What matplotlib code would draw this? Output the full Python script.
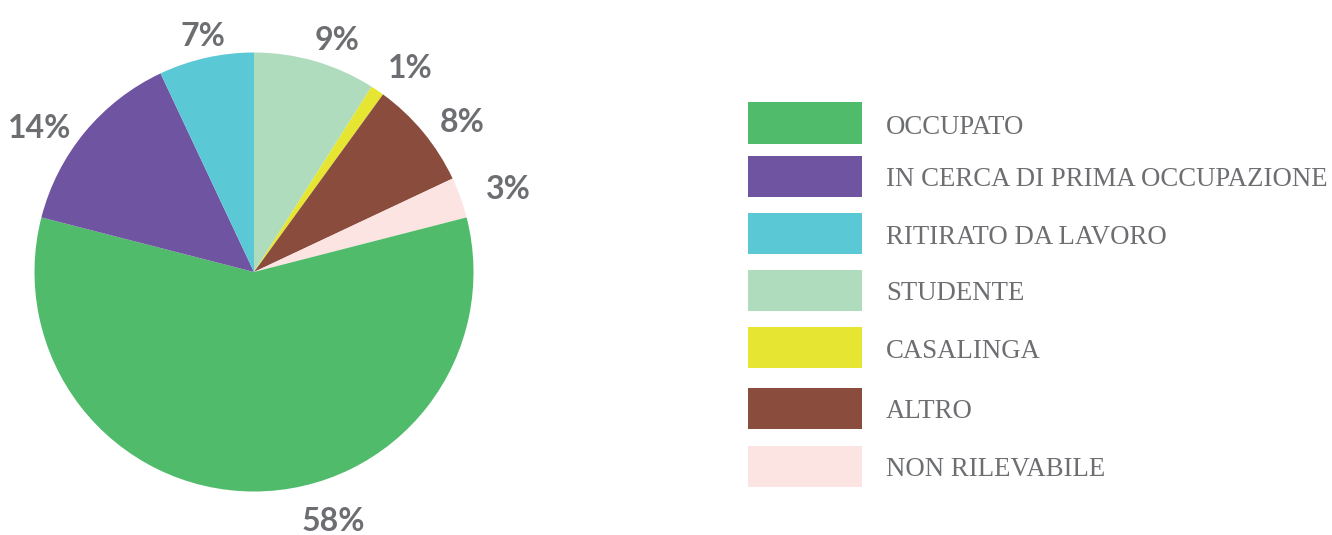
import matplotlib
matplotlib.use("Agg")
import matplotlib.pyplot as plt
from matplotlib.patches import Rectangle

# data, in legend order
categories = ["OCCUPATO", "IN CERCA DI PRIMA OCCUPAZIONE", "RITIRATO DA LAVORO",
              "STUDENTE", "CASALINGA", "ALTRO", "NON RILEVABILE"]
shares = [58, 14, 7, 9, 1, 8, 3]
colors = ["#50bb6a", "#6f55a1", "#5bc8d6", "#b0dcbe", "#e6e632", "#8a4c3c", "#fbe4e1"]

# pie is drawn clockwise from 12 o'clock starting with STUDENTE
pie_order = [3, 4, 5, 6, 0, 1, 2]
# label anchor positions in pie units (radius = 1)
label_pos = {0: (0.36, -1.138), 1: (-0.975, 0.655), 2: (-0.232, 1.074),
             3: (0.378, 1.056), 4: (0.711, 0.928), 5: (0.948, 0.682),
             6: (1.157, 0.377)}

W, H = 1332, 535
fig = plt.figure(figsize=(W / 100, H / 100), dpi=100)

cx, cy, R = 254, 272, 219.5
ax = fig.add_axes([(cx - R) / W, (H - cy - R) / H, 2 * R / W, 2 * R / H])
ax.pie([shares[i] for i in pie_order], colors=[colors[i] for i in pie_order],
       startangle=90, counterclock=False, radius=1,
       wedgeprops=dict(linewidth=0))
ax.set_xlim(-1, 1)
ax.set_ylim(-1, 1)
ax.set_aspect("equal")
ax.axis("off")

for i in pie_order:
    x, y = label_pos[i]
    ax.text(x, y, "{}%".format(shares[i]), ha="center", va="center",
            fontsize=23, fontweight="bold", family="Lato", color="#6d6e71",
            clip_on=False)

# manual legend
row_y = [123, 176, 233, 290, 347, 408, 466]
for i, name in enumerate(categories):
    y = row_y[i]
    fig.patches.append(Rectangle((748 / W, (H - y - 20.5) / H), 114 / W, 41 / H,
                                 transform=fig.transFigure, fc=colors[i], ec="none"))
    fig.text(886 / W, (H - y - 4) / H, name, ha="left", va="center",
             fontsize=19.3, family="Liberation Serif", color="#6d6e71")

fig.savefig("out.png", dpi=100)
